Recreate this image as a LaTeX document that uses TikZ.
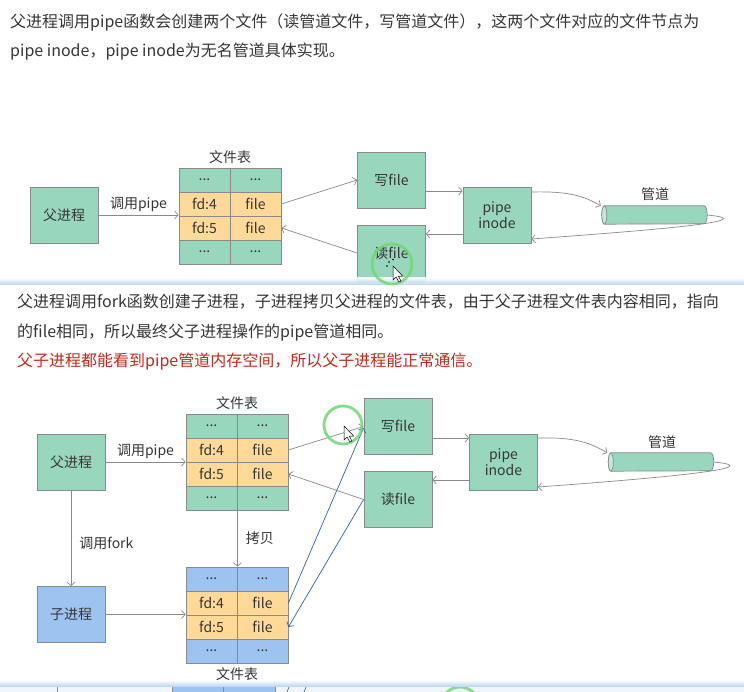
\documentclass[tikz,border=0pt]{standalone}
\usepackage{fontspec}
\setmainfont{Noto Sans CJK SC}
\usetikzlibrary{arrows.meta}
\definecolor{boxgreen}{HTML}{98D6BE}
\definecolor{boxorange}{HTML}{FFD998}
\definecolor{boxblue}{HTML}{9DC3F0}
\definecolor{endgreen}{HTML}{C4E9DA}
\definecolor{edgegray}{HTML}{8A8A8A}
\definecolor{txt}{HTML}{363636}
\definecolor{redtxt}{HTML}{C4291C}
\definecolor{bluel}{HTML}{2F65AF}
\definecolor{ringgreen}{HTML}{72D872}
\definecolor{shadeblue}{HTML}{B5D1F4}
\tikzset{
  box/.style={draw=edgegray, fill=boxgreen, line width=0.8pt, minimum width=68pt, minimum height=56pt, inner sep=0pt, text=txt, align=center},
  bluebox/.style={box, fill=boxblue},
  cellg/.style={draw=edgegray, fill=boxgreen, line width=0.8pt, minimum width=51pt, minimum height=24pt, inner sep=0pt, text=txt},
  cello/.style={cellg, fill=boxorange},
  cellb/.style={cellg, fill=boxblue},
  conn/.style={draw=edgegray, line width=0.7pt, -{Straight Barb[length=3.5pt,width=8pt]}},
  bconn/.style={conn, draw=bluel},
  lbl/.style={text=txt, inner sep=0pt},
  para/.style={font=\fontsize{16}{18}\selectfont, text=txt, anchor=west, inner sep=0pt},
  pipebox/.style={minimum width=105pt, minimum height=18pt, inner sep=0pt},
  ring/.style={draw=ringgreen, line width=2.8pt, opacity=0.85},
  cursor/.style={fill=white, draw=black, line width=0.5pt},
}
\newcommand{\pipecyl}[1]{%
  \fill[boxgreen, draw=edgegray, line width=0.7pt]
    ([xshift=2.5pt]#1.north west) -- ([xshift=-3pt]#1.north east)
    arc[start angle=90, end angle=-90, x radius=3pt, y radius=9pt]
    -- ([xshift=2.5pt]#1.south west)
    arc[start angle=-90, end angle=-270, x radius=2.5pt, y radius=9pt] -- cycle;
  \draw[fill=endgreen, draw=edgegray, line width=0.7pt]
    ([xshift=2.5pt]#1.west) ellipse[x radius=2.5pt, y radius=9pt];
}
\begin{document}
\begin{tikzpicture}[x=1pt, y=-1pt, font=\fontsize{14}{16}\selectfont]
\useasboundingbox (0,0) rectangle (744,692);
\fill[white] (0,0) rectangle (744,692);

% ---------- paragraphs ----------
\node[para] (p1) at (10,22) {父进程调用pipe函数会创建两个文件（读管道文件，写管道文件），这两个文件对应的文件节点为};
\node[para] (p2) at (10,52) {pipe inode，pipe inode为无名管道具体实现。};

% ---------- top diagram ----------
\node[box] (fa1) at (64,215) {父进程};
\node[cellg] (a11) at (204.5,180) {...};
\node[cellg] (a12) at (255.5,180) {...};
\node[cello] (a21) at (204.5,204) {fd:4};
\node[cello] (a22) at (255.5,204) {file};
\node[cello] (a31) at (204.5,228) {fd:5};
\node[cello] (a32) at (255.5,228) {file};
\node[cellg] (a41) at (204.5,252) {...};
\node[cellg] (a42) at (255.5,252) {...};
\node[lbl] (ta1) at (230,157) {文件表};
\node[box] (wr1) at (391.5,180) {写file};
\node[box] (rd1) at (391.5,253) {读file};
\node[box] (pi1) at (497,215) {pipe\\inode};
\node[pipebox] (cy1) at (654.5,215) {};
\pipecyl{cy1}
\node[lbl] (gl1) at (655,194) {管道};

\draw[conn] (fa1.east) -- (fa1.east -| a21.west) node[lbl, midway, yshift=11pt] {调用pipe};
\draw[conn] (a22.east) -- (wr1.west);
\draw[conn] (rd1.west) -- (a32.east);
\draw[conn] ([yshift=-11pt]wr1.east) -- ([yshift=-11pt]wr1.east -| pi1.west);
\draw[conn] ([yshift=-19pt]pi1.west) -- ([yshift=-19pt]pi1.west -| rd1.east);
\draw[conn] ([yshift=23pt]pi1.east) .. controls +(40,-1) and +(-16,-9) .. ([xshift=-1pt]cy1.north west);
\draw[conn] (cy1.east) .. controls +(62,6) and +(110,-8) .. ([yshift=-24pt]pi1.east);

% ---------- overlay edge ----------
\shade[top color=white, bottom color=shadeblue, opacity=0.9] (0,278) rectangle (744,284.5);

\draw[ring] (392,264) circle[radius=20];
\fill[black] (389,262) circle[radius=0.9] (393,259.5) circle[radius=0.9] (387,266) circle[radius=0.9];
\draw[cursor] (393,266) -- ++(0,14) -- ++(3.2,-3) -- ++(2.6,5) -- ++(2.2,-1) -- ++(-2.6,-4.8) -- ++(4.4,0) -- cycle;

% ---------- middle paragraphs ----------
\node[para] (p3) at (17,302) {父进程调用fork函数创建子进程，子进程拷贝父进程的文件表，由于父子进程文件表内容相同，指向};
\node[para] (p4) at (17,333) {的file相同，所以最终父子进程操作的pipe管道相同。};
\node[para, text=redtxt] (p5) at (17,362) {父子进程都能看到pipe管道内存空间，所以父子进程能正常通信。};

% ---------- bottom diagram ----------
\node[box] (fa2) at (71,462) {父进程};
\node[cellg] (b11) at (211.5,426) {...};
\node[cellg] (b12) at (262.5,426) {...};
\node[cello] (b21) at (211.5,450) {fd:4};
\node[cello] (b22) at (262.5,450) {file};
\node[cello] (b31) at (211.5,474) {fd:5};
\node[cello] (b32) at (262.5,474) {file};
\node[cellg] (b41) at (211.5,498) {...};
\node[cellg] (b42) at (262.5,498) {...};
\node[lbl] (ta2) at (237,403) {文件表};
\node[box] (wr2) at (398,426.5) {写file};
\node[box] (rd2) at (398,499.5) {读file};
\node[box] (pi2) at (503.5,462) {pipe\\inode};
\node[pipebox] (cy2) at (661,462) {};
\pipecyl{cy2}
\node[lbl] (gl2) at (662,442) {管道};

\node[bluebox] (zi) at (71,614.5) {子进程};
\node[cellb] (c11) at (211.5,579) {...};
\node[cellb] (c12) at (262.5,579) {...};
\node[cello] (c21) at (211.5,603) {fd:4};
\node[cello] (c22) at (262.5,603) {file};
\node[cello] (c31) at (211.5,627) {fd:5};
\node[cello] (c32) at (262.5,627) {file};
\node[cellb] (c41) at (211.5,651) {...};
\node[cellb] (c42) at (262.5,651) {...};
\node[lbl] (ta3) at (237,674) {文件表};

\draw[conn] (fa2.east) -- (fa2.east -| b21.west) node[lbl, midway, yshift=11pt] {调用pipe};
\draw[conn] (fa2.south) -- (zi.north) node[lbl, pos=0.55, anchor=west, xshift=8pt] {调用fork};
\draw[conn] (b41.south east) -- (c11.north east) node[lbl, midway, anchor=west, xshift=8pt] {拷贝};
\draw[conn] (zi.east) -- (zi.east -| c21.west);
\draw[conn] (b22.east) -- (wr2.west);
\draw[conn] (rd2.west) -- (b32.east);
\draw[conn] ([yshift=-11.5pt]wr2.east) -- ([yshift=-11.5pt]wr2.east -| pi2.west);
\draw[conn] ([yshift=-18pt]pi2.west) -- ([yshift=-18pt]pi2.west -| rd2.east);
\draw[conn] ([yshift=24pt]pi2.east) .. controls +(40,-1) and +(-16,-9) .. ([xshift=-1pt]cy2.north west);
\draw[conn] (cy2.east) .. controls +(62,6) and +(110,-8) .. ([yshift=-25pt]pi2.east);
\draw[bconn] (c22.east) -- ([yshift=-1.5pt]wr2.west);
\draw[bconn] (rd2.west) -- (c32.east);

\draw[ring] (343,425) circle[radius=19];
\draw[cursor] (344,426) -- ++(0,14) -- ++(3.2,-3) -- ++(2.6,5) -- ++(2.2,-1) -- ++(-2.6,-4.8) -- ++(4.4,0) -- cycle;

% ---------- bottom overlay edge ----------
\shade[top color=white, bottom color=shadeblue] (0,680) rectangle (744,687);
\fill[white!80!shadeblue] (0,687) rectangle (744,692);
\draw[edgegray, line width=0.7pt] (57,687) -- (57,692);
\fill[boxblue] (172,687) rectangle (275,692);
\draw[edgegray, line width=0.7pt] (172,687) -- (172,692) (223.5,687) -- (223.5,692) (275,687) -- (275,692);
\draw[bluel, line width=0.6pt] (287,692) -- (289,687) (304,692) -- (306,687);
\begin{scope}
\clip (0,687) rectangle (744,692);
\draw[ring] (460,706) circle[radius=19];
\end{scope}
\end{tikzpicture}
\end{document}
